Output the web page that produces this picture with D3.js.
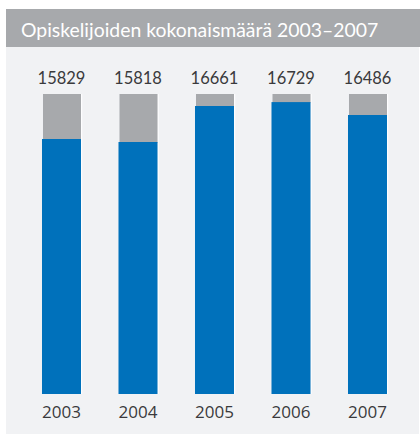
<!DOCTYPE html>
<html>
<head>
<meta charset="utf-8">
<script src="https://cdn.jsdelivr.net/npm/d3@7"></script>
<style>
	body { margin: 0; background: #fff; }
	svg { display: block; }
</style>
</head>
<body>
<svg id="chart" width="420" height="435"></svg>
<script>
var years = ["2003", "2004", "2005", "2006", "2007"];
var totals = [15829, 15818, 16661, 16729, 16486];
// blue share of the full bar (%)
var blueShare = [85, 84, 96, 97.3, 93];

var titleText = "Opiskelijoiden kokonaismäärä 2003–2007";

var blue = "#0071bb";
var grey = "#a7a9ac";
var panelColor = "#f1f2f4";
var textColor = "#3a3a3c";

var svg = d3.select("#chart");

// Panel =====================================================================

svg.append("rect")
	.attr("x", 6)
	.attr("y", 47)
	.attr("width", 413)
	.attr("height", 387)
	.attr("fill", panelColor);

svg.append("rect")
	.attr("x", 6)
	.attr("y", 9)
	.attr("width", 414)
	.attr("height", 38)
	.attr("fill", grey);

svg.append("text")
	.attr("x", 21)
	.attr("y", 37)
	.attr("font-family", "Lato, 'Open Sans', sans-serif")
	.attr("font-size", 19.4)
	.attr("fill", "#fff")
	.text(titleText);

// Scales ====================================================================

var xScale = d3.scaleBand()
	.domain(years)
	.range([23.25, 405.75])
	.paddingInner(0.49)
	.paddingOuter(0.245);

var yScale = d3.scaleLinear()
	.domain([0, 100])
	.range([394, 94]);

var data = years.map(function(y, i) {
	return { year: y, total: totals[i], share: blueShare[i] };
});

// Bars ======================================================================

var bars = svg.append("g").attr("class", "bars")
	.selectAll("g")
	.data(data)
	.enter()
	.append("g");

bars.append("rect")
	.attr("x", function(d) { return xScale(d.year) + xScale.bandwidth(); })
	.attr("y", yScale(100))
	.attr("width", 1.2)
	.attr("height", yScale(0) - yScale(100))
	.attr("fill", "#fff");

bars.append("rect")
	.attr("x", function(d) { return xScale(d.year) + 1; })
	.attr("y", yScale(100))
	.attr("width", xScale.bandwidth() - 1)
	.attr("height", function(d) { return yScale(d.share) - yScale(100) + 1; })
	.attr("fill", grey);

bars.append("rect")
	.attr("x", function(d) { return xScale(d.year); })
	.attr("y", function(d) { return yScale(d.share); })
	.attr("width", xScale.bandwidth())
	.attr("height", function(d) { return yScale(0) - yScale(d.share); })
	.attr("fill", blue);

// Labels ====================================================================

bars.append("text")
	.attr("x", function(d) { return xScale(d.year) + xScale.bandwidth() / 2; })
	.attr("y", 84)
	.attr("text-anchor", "middle")
	.attr("font-family", "Lato, sans-serif")
	.attr("font-size", 16.5)
	.attr("fill", textColor)
	.text(function(d) { return d.total; });

var xAxis = d3.axisBottom(xScale).tickSize(0).tickPadding(0);

svg.append("g")
	.attr("class", "x-axis")
	.attr("transform", "translate(0,418)")
	.call(xAxis)
	.call(function(g) {
		g.select(".domain").remove();
		g.selectAll(".tick text")
			.attr("dy", 0)
			.attr("y", 0)
			.attr("font-family", "'Open Sans', sans-serif")
			.attr("font-size", 17)
			.attr("fill", textColor);
	});
</script>
</body>
</html>
